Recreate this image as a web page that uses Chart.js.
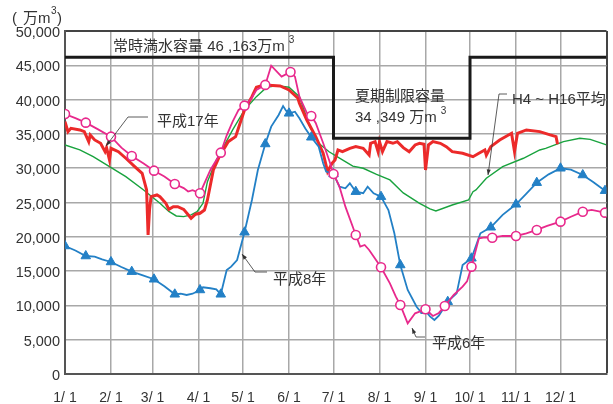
<!DOCTYPE html>
<html>
<head>
<meta charset="utf-8">
<script src="https://cdn.jsdelivr.net/npm/chart.js@4"></script>
<style>
  html, body { margin: 0; padding: 0; background: #fff; }
  #wrap { width: 613px; height: 404px; position: relative; }
</style>
</head>
<body>
<div id="wrap"><canvas id="chart"></canvas></div>
<script>
// x = day of year (0 = 1/1), y = 万m3
const monthDays = [0, 31, 59, 90, 120, 151, 181, 212, 243, 273, 304, 334, 365];
const monthLabels = ['1/ 1', '2/ 1', '3/ 1', '4/ 1', '5/ 1', '6/ 1', '7/ 1', '8/ 1', '9/ 1', '10/ 1', '11/ 1', '12/ 1', ''];

// capacity (常時満水 / 夏期制限)
const capDays = [0, 181, 181, 273, 273, 365];
const capVals = [46163, 46163, 34349, 34349, 46163, 46163];

// 平成17年
const h17Days = [0, 2, 4, 10, 13, 16, 17, 20, 24, 27, 28, 30, 31, 36, 41, 47, 52, 55, 56, 57, 58, 62, 64, 68, 70, 73, 76, 80, 85, 88, 91, 94, 96,
  100, 104, 110, 115, 118, 121, 126, 129, 134, 140, 145, 151, 157, 158, 163, 169, 174, 177, 180, 182, 184, 187, 192, 196, 201, 205, 206,
  209, 211, 212, 214, 217, 221, 224, 228, 232, 236, 239, 242, 243, 245, 248, 253, 257, 261, 268, 275, 279, 283, 284, 287, 293, 301, 303,
  305, 311, 320, 327, 331, 332];
const h17Vals = [36790, 35330, 35820, 35580, 35330, 33870, 34850, 34120, 33630, 32410, 33000, 31200, 32900, 32410, 31450, 30230, 29250, 26830, 20270, 24000,
  25850, 26100, 25850, 24880, 24000, 24390, 24390, 24000, 22700, 23300, 23430, 23910, 25370,
  29740, 31680, 33870, 34600, 36550, 38490, 40430, 41800, 42140, 42050, 41990, 41410, 40200, 39470, 37030, 34600, 32180, 29500, 30720, 31200,
  32660, 32410, 32900, 33140, 32900, 31930, 33630, 33870, 32410, 33870, 32410, 33870, 33630, 33870, 33000, 32410, 33390, 33630, 33500,
  29740, 33390, 33870, 33630, 33140, 32410, 32180, 31680, 32180, 32660, 31900, 33140, 34120, 35090, 32410, 35090, 35580, 35330, 34850,
  34600, 33500];

// H4～H16平均
const avgDays = [0, 10, 19, 30, 41, 53, 64, 70, 75, 80, 85, 89, 93, 96, 102, 113, 121, 129, 136, 143, 151, 158, 165, 171, 178, 187, 194,
  201, 210, 219, 228, 239, 246, 250, 261, 272, 275, 277, 284, 295, 309, 320, 324, 336, 347, 354, 365];
const avgVals = [33390, 32660, 31680, 30230, 28770, 26830, 24880, 23700, 23040, 22940, 23200, 23660, 24880, 28040, 31200, 35580, 38490,
  40430, 41800, 42040, 41800, 40430, 36060, 33630, 32400, 31200, 30300, 29990, 29100, 28290, 26400, 24880, 24060, 23770, 24640, 25370,
  26580, 26830, 28530, 30230, 31450, 32660, 32900, 33870, 34360, 34210, 33390];

// 平成8年
const h8Days = [0, 7, 14, 20, 25, 31, 38, 45, 52, 60, 67, 74, 78, 82, 86, 91, 93, 98, 102, 105, 109, 112, 116, 121, 126, 130, 135, 139,
  144, 147, 149, 151, 155, 158, 162, 166, 171, 174, 176, 181, 185, 189, 192, 196, 201, 204, 208, 213, 218, 222, 226, 231, 237, 240, 243,
  246, 249, 252, 258, 264, 268, 274, 280, 287, 295, 304, 311, 318, 326, 334, 341, 349, 356, 364];
const h8Vals = [18660, 18000, 17200, 17100, 16700, 16330, 15600, 14920, 14400, 13810, 12800, 11620, 11700, 11520, 11700, 12250, 12640,
  12500, 12350, 11620, 15160, 15650, 16620, 20660, 25370, 29740, 33530, 36060, 37760, 39070, 38390, 38000, 38240, 37280, 35800, 34510,
  33140, 30720, 29500, 29160, 27310, 27070, 27800, 26580, 26350, 27310, 26350, 25850, 23910, 20510, 15890, 12250, 9810, 9000, 9230,
  8400, 7870, 8500, 10540, 11760, 15890, 16870, 20510, 21390, 23200, 24740, 26300, 27890, 29100, 29990, 29800, 29010, 28000, 26720];
const h8Marks = [0, 14, 31, 45, 60, 74, 91, 105, 121, 135, 151, 166, 181, 196, 213, 226, 243, 258, 274, 287, 304, 318, 334, 349, 364];

// 平成6年
const h6Days = [0, 7, 14, 22, 31, 38, 45, 53, 60, 67, 74, 80, 83, 86, 91, 98, 105, 109, 113, 117, 121, 125, 129, 135, 139, 146, 152,
  155, 158, 163, 166, 169, 174, 178, 181, 185, 189, 196, 199, 202, 205, 213, 219, 223, 226, 231, 236, 239, 243, 248, 252, 256, 262, 268,
  271, 274, 279, 283, 288, 295, 304, 311, 318, 325, 334, 341, 349, 355, 364];
const h6Vals = [37900, 37300, 36640, 35700, 34600, 33000, 31780, 30700, 29640, 28800, 27700, 27100, 26600, 26800, 26350, 29740, 32270,
  34800, 36790, 38490, 39120, 39950, 41400, 42140, 44950, 43350, 44030, 43350, 40430, 38050, 37620, 36600, 33680, 31200, 29160, 27310,
  24390, 20270, 18560, 18810, 18080, 15560, 13220, 11270, 10060, 7390, 8850, 9080, 9430, 8460, 8900, 9910, 11520, 12730, 13500, 15650,
  19780, 19930, 19870, 20120, 20120, 20510, 21000, 21580, 22210, 22930, 23660, 23910, 23520];
const h6Marks = [0, 14, 31, 45, 60, 74, 91, 105, 121, 135, 152, 166, 181, 196, 213, 226, 243, 256, 274, 288, 304, 318, 334, 349, 364];

const FONT = "'Liberation Sans', Arial, 'Noto Sans CJK JP', sans-serif";
const TEXT = '#333';

function pts(days, vals) {
  return days.map((d, i) => ({ x: d, y: vals[i] }));
}

function markRadius(marks, r) {
  return ctx => (ctx.raw && marks.includes(ctx.raw.x)) ? r : 0;
}

// fixed plot box: 65..607 x 31..374
function noPad(s) {
  s.paddingLeft = 0;
  s.paddingRight = 0;
  s.paddingTop = 0;
  s.paddingBottom = 0;
}

// labels, leaders, superscripts
const notes = {
  id: 'notes',
  afterDatasetsDraw(chart) {
    const c = chart.ctx;
    c.save();
    c.fillStyle = TEXT;
    c.textBaseline = 'middle';
    c.textAlign = 'left';

    const sup = (txt, x, y) => {
      c.font = '15px ' + FONT;
      c.fillText(txt, x, y);
      const w = c.measureText(txt).width;
      c.font = '10px ' + FONT;
      c.fillText('3', x + w + 4, y - 7);
    };

    // y unit
    c.font = '15px ' + FONT;
    c.fillText('(', 12, 19);
    c.fillText('万m', 23, 19);
    c.font = '10px ' + FONT;
    c.fillText('3', 51, 11);
    c.font = '15px ' + FONT;
    c.fillText(')', 57, 19);

    sup('常時満水容量 46 ,163万m', 113, 47);
    c.font = '15px ' + FONT;
    c.fillText('夏期制限容量', 355, 97);
    sup('34 ,349 万m', 355, 118);

    c.font = '15px ' + FONT;
    c.fillText('H4 ~ H16平均', 512, 100);
    c.fillText('平成17年', 157, 122);
    c.fillText('平成8年', 273, 280);
    c.fillText('平成6年', 432, 344);

    const leader = (p) => {
      c.strokeStyle = '#333';
      c.lineWidth = 0.8;
      c.beginPath();
      c.moveTo(p[0][0], p[0][1]);
      for (let i = 1; i < p.length; i++) c.lineTo(p[i][0], p[i][1]);
      c.stroke();
      const [ax, ay] = p[p.length - 1];
      const [bx, by] = p[p.length - 2];
      const a = Math.atan2(ay - by, ax - bx);
      c.fillStyle = '#333';
      c.beginPath();
      c.moveTo(ax, ay);
      c.lineTo(ax - 6 * Math.cos(a - 0.35), ay - 6 * Math.sin(a - 0.35));
      c.lineTo(ax - 6 * Math.cos(a + 0.35), ay - 6 * Math.sin(a + 0.35));
      c.closePath();
      c.fill();
    };
    leader([[148, 117], [128, 117], [106, 146]]);
    leader([[507, 94], [499, 94], [488, 175]]);
    leader([[267, 272], [255, 272], [242, 254]]);
    leader([[425, 337], [416, 337], [412, 328]]);

    c.restore();
  }
};

new Chart(document.getElementById('chart'), {
  type: 'line',
  data: {
    datasets: [
      {
        label: '常時満水容量',
        data: pts(capDays, capVals),
        borderColor: '#1a1a1a',
        borderWidth: 3,
        pointRadius: 0,
        order: 0
      },
      {
        label: '平成6年',
        data: pts(h6Days, h6Vals),
        borderColor: '#e8298c',
        borderWidth: 1.8,
        pointRadius: markRadius(h6Marks, 4.5),
        pointBackgroundColor: '#fff',
        pointBorderColor: '#e8298c',
        pointBorderWidth: 1.6,
        order: 1
      },
      {
        label: '平成8年',
        data: pts(h8Days, h8Vals),
        borderColor: '#2380c6',
        borderWidth: 1.8,
        pointStyle: 'triangle',
        pointRadius: markRadius(h8Marks, 5.5),
        pointBackgroundColor: '#2380c6',
        pointBorderColor: '#2380c6',
        pointBorderWidth: 1,
        order: 2
      },
      {
        label: '平成17年',
        data: pts(h17Days, h17Vals),
        borderColor: '#ec2a2a',
        borderWidth: 3,
        pointRadius: 0,
        order: 3
      },
      {
        label: 'H4～H16平均',
        data: pts(avgDays, avgVals),
        borderColor: '#19a33e',
        borderWidth: 1.4,
        pointRadius: 0,
        order: 4
      }
    ]
  },
  options: {
    responsive: true,
    maintainAspectRatio: false,
    animation: false,
    events: [],
    layout: { padding: { left: 0, right: 6, top: 31, bottom: 0 } },
    plugins: {
      legend: { display: false },
      tooltip: { enabled: false }
    },
    scales: {
      x: {
        type: 'linear',
        min: 0,
        max: 365,
        afterFit: s => { s.height = 30; noPad(s); },
        afterBuildTicks: s => { s.ticks = monthDays.map(v => ({ value: v })); },
        ticks: {
          autoSkip: false,
          maxRotation: 0,
          padding: 16,
          color: TEXT,
          font: { family: FONT, size: 14 },
          callback: v => monthLabels[monthDays.indexOf(v)]
        },
        grid: {
          drawTicks: false,
          tickLength: 0,
          color: ctx => ctx.tick && ctx.tick.value === 365 ? '#444' : '#a8a8a8',
          lineWidth: ctx => ctx.tick && ctx.tick.value === 365 ? 2 : 1.5
        },
        border: { color: '#555', width: 2 }
      },
      y: {
        min: 0,
        max: 50000,
        afterFit: s => { s.width = 65; noPad(s); },
        ticks: {
          stepSize: 5000,
          padding: 5,
          labelOffset: 2,
          color: TEXT,
          font: { family: FONT, size: 14.5 },
          callback: v => v.toLocaleString('en-US')
        },
        grid: {
          drawTicks: false,
          tickLength: 0,
          color: ctx => ctx.tick && ctx.tick.value === 50000 ? '#444' : '#a8a8a8',
          lineWidth: ctx => ctx.tick && ctx.tick.value === 50000 ? 2 : 1.5
        },
        border: { color: '#555', width: 2 }
      }
    }
  },
  plugins: [notes]
});
</script>
</body>
</html>
